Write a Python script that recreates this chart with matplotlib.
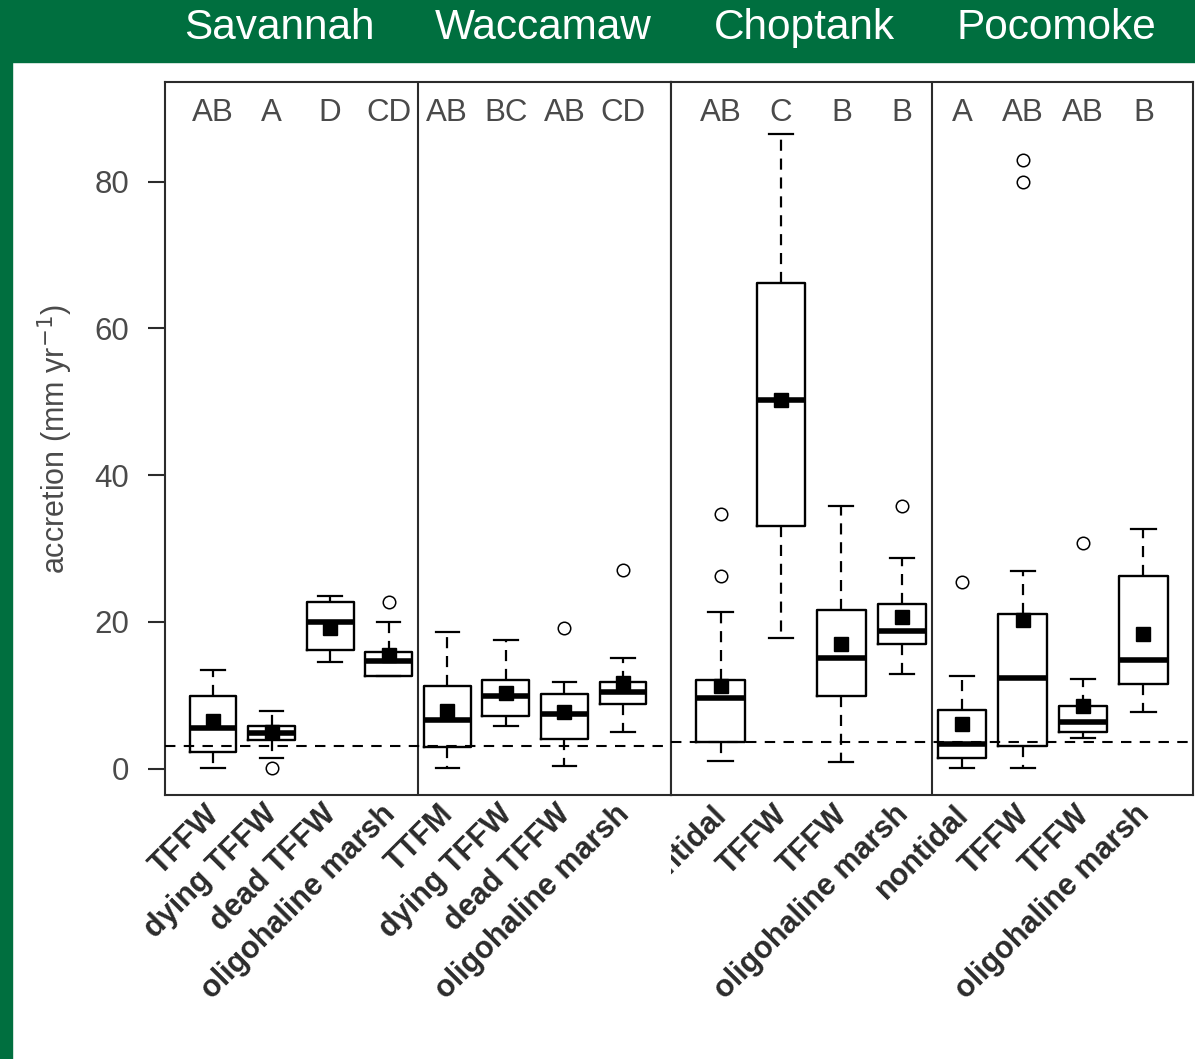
import matplotlib
matplotlib.use("Agg")
import matplotlib.pyplot as plt
from matplotlib.transforms import Bbox, TransformedBbox, blended_transform_factory, offset_copy

W, H = 1195, 1059
GREEN = "#006F3F"
INK = "#2b2b2b"
GREY = "#4a4a4a"

rivers = ["Savannah", "Waccamaw", "Choptank", "Pocomoke"]

# habitat labels, left pair (Savannah, Waccamaw) and right pair (Choptank, Pocomoke)
labels_left = ["TFFW", "dying TFFW", "dead TFFW", "oligohaline marsh",
               "TTFM", "dying TFFW", "dead TFFW", "oligohaline marsh"]
labels_right = ["nontidal", "TFFW", "TFFW", "oligohaline marsh",
                "nontidal", "TFFW", "TFFW", "oligohaline marsh"]
letters_left = ["AB", "A", "D", "CD", "AB", "BC", "AB", "CD"]
letters_right = ["AB", "C", "B", "B", "A", "AB", "AB", "B"]

# box statistics (mm/yr)
whislo_left = [0.1, 1.45, 14.5, 12.65, 0.05, 5.75, 0.3, 5.0]
q1_left = [2.3, 3.85, 16.2, 12.65, 2.95, 7.2, 4.1, 8.8]
med_left = [5.5, 4.85, 20.0, 14.6, 6.6, 9.9, 7.45, 10.4]
q3_left = [9.9, 5.85, 22.7, 15.9, 11.3, 12.1, 10.15, 11.8]
whishi_left = [13.5, 7.9, 23.5, 20.0, 18.6, 17.55, 11.8, 15.05]
mean_left = [6.5, 4.95, 19.1, 15.5, 7.8, 10.3, 7.65, 11.65]
fliers_left = [[], [0.1], [], [22.7], [], [], [19.1], [27.1]]

whislo_right = [1.1, 17.8, 0.9, 12.9, 0.1, 0.1, 4.2, 7.7]
q1_right = [3.67, 33.1, 9.85, 17.0, 1.45, 3.05, 5.0, 11.55]
med_right = [9.6, 50.2, 15.05, 18.8, 3.35, 12.35, 6.35, 14.8]
q3_right = [12.1, 66.2, 21.6, 22.4, 8.0, 21.05, 8.5, 26.2]
whishi_right = [21.3, 86.5, 35.8, 28.7, 12.6, 27.0, 12.25, 32.7]
mean_right = [11.2, 50.2, 17.0, 20.6, 6.1, 20.2, 8.5, 18.3]
fliers_right = [[34.7, 26.2], [], [], [35.8], [25.4], [82.9, 79.9], [30.8], []]

# reference rate of sea-level rise for each pair
slr_left = 3.1
slr_right = 3.6

plt.rcParams["font.family"] = ["Liberation Sans", "DejaVu Sans"]

fig = plt.figure(figsize=(W / 100, H / 100), dpi=100)
fig.patch.set_facecolor("white")

# green frame: header band and thin strip on the left
fig.patches.append(plt.Rectangle((0, 1 - 62 / H), 1, 62 / H, transform=fig.transFigure,
                                 color=GREEN, zorder=0))
fig.patches.append(plt.Rectangle((0, 0), 12 / W, 1, transform=fig.transFigure,
                                 color=GREEN, zorder=0))
for name, cx in zip(rivers, [279, 543, 804, 1056]):
    fig.text(cx / W, 1 - 28 / H, name, color="white", fontsize=30.5,
             ha="center", va="center")

bottom_px, top_px = 795, 82
ax_h = (bottom_px - top_px) / H
ax_b = 1 - bottom_px / H
axL = fig.add_axes([165 / W, ax_b, (671 - 165) / W, ax_h])
axR = fig.add_axes([671 / W, ax_b, (1193 - 671) / W, ax_h])


def draw_pair(ax, labels, letters, whislo, q1, med, q3, whishi, mean, fliers, slr, clip_px):
    stats = []
    for i in range(len(labels)):
        stats.append(dict(whislo=whislo[i], q1=q1[i], med=med[i], q3=q3[i],
                          whishi=whishi[i], mean=mean[i], fliers=fliers[i], label=""))
    pos = list(range(1, len(labels) + 1))
    ax.bxp(stats, positions=pos, widths=0.8, capwidths=0.4, showmeans=True,
           boxprops=dict(color="black", lw=1.7),
           medianprops=dict(color="black", lw=4, solid_capstyle="butt"),
           whiskerprops=dict(color="black", lw=1.6, linestyle=(0, (5, 3.5))),
           capprops=dict(color="black", lw=1.6),
           meanprops=dict(marker="s", markerfacecolor="black", markeredgecolor="black",
                          markersize=10),
           flierprops=dict(marker="o", markerfacecolor="none", markeredgecolor="black",
                           markersize=9, markeredgewidth=1.1))
    ax.axhline(slr, color="black", lw=1.5, linestyle=(0, (5, 4)), zorder=5)
    ax.axvline(4.5, color=INK, lw=1.5)
    ax.set_xlim(0.18, 8.82)
    ax.set_ylim(-3.6, 93.6)
    ax.set_xticks([])
    for s in ax.spines.values():
        s.set_color(INK)
        s.set_linewidth(1.5)
    for p, t in zip(pos, letters):
        ax.text(p, 89.4, t, ha="center", va="center", fontsize=22.5, color=GREY)
    trans = offset_copy(blended_transform_factory(ax.transData, ax.transAxes),
                        fig=fig, x=0, y=-15, units="dots")
    clip = TransformedBbox(Bbox([[clip_px[0], 0], [clip_px[1], H - bottom_px + 1]]),
                           fig.dpi_scale_trans + plt.matplotlib.transforms.Affine2D().scale(1 / 100))
    for p, t in zip(pos, labels):
        txt = ax.text(p + 0.03, 0, t, transform=trans, rotation=45, rotation_mode="anchor",
                      ha="right", va="center", fontsize=22, fontweight="bold", color=INK,
                      clip_on=True)
        txt.set_clip_box(clip)


draw_pair(axL, labels_left, letters_left, whislo_left, q1_left, med_left, q3_left,
          whishi_left, mean_left, fliers_left, slr_left, (0, 671))
draw_pair(axR, labels_right, letters_right, whislo_right, q1_right, med_right, q3_right,
          whishi_right, mean_right, fliers_right, slr_right, (671, W))

axL.set_yticks([0, 20, 40, 60, 80])
axL.tick_params(axis="y", length=12, width=1.5, color=INK, labelsize=22.5,
                labelcolor=GREY, pad=14)
axR.set_yticks([])
axL.set_ylabel("accretion (mm yr$^{-1}$)", fontsize=22, color=GREY, labelpad=14)

fig.savefig("out.png", dpi=100, facecolor=fig.get_facecolor())
